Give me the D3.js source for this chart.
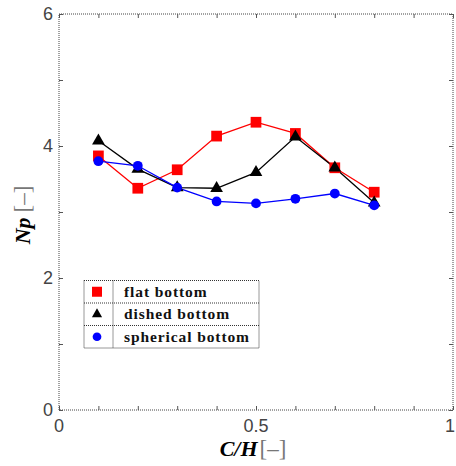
<!DOCTYPE html>
<html>
<head>
<meta charset="utf-8">
<script src="https://cdn.jsdelivr.net/npm/d3@7"></script>
<style>
  body { margin: 0; background: #fff; }
  svg { display: block; }
</style>
</head>
<body>
<svg id="chart" width="456" height="466"></svg>
<script>
// values
var xValues = [0.1, 0.2, 0.3, 0.4, 0.5, 0.6, 0.7, 0.8];
var flatBottom = [3.85, 3.36, 3.64, 4.15, 4.36, 4.19, 3.67, 3.30];
var dishedBottom = [4.08, 3.65, 3.37, 3.36, 3.60, 4.14, 3.67, 3.14];
var sphericalBottom = [3.77, 3.70, 3.37, 3.16, 3.13, 3.20, 3.28, 3.10];
var xTickLabels = [0, 0.5, 1];
var yTickLabels = [0, 2, 4, 6];
var seriesNames = ['flat bottom', 'dished bottom', 'spherical bottom'];

var svg = d3.select('#chart');
var margin = {left: 59, top: 14, right: 3, bottom: 56};
var W = 456, H = 466;

var x = d3.scaleLinear().domain([0, 1]).range([margin.left, W - margin.right]);
var y = d3.scaleLinear().domain([0, 6]).range([H - margin.bottom, margin.top]);

var series = [
	{name: seriesNames[0], values: flatBottom, color: '#ff0000', shape: d3.symbolSquare, size: 115},
	{name: seriesNames[1], values: dishedBottom, color: '#000000', shape: d3.symbolTriangle, size: 70},
	{name: seriesNames[2], values: sphericalBottom, color: '#0000ff', shape: d3.symbolCircle, size: 75}
];

// frame (dotted)
svg.append('rect')
	.attr('x', x(0)).attr('y', y(6))
	.attr('width', x(1) - x(0)).attr('height', y(0) - y(6))
	.attr('fill', 'none').attr('stroke', '#444').attr('stroke-width', 1)
	.attr('stroke-dasharray', '1,1');

// inward ticks on all four sides
var tickLen = 4;
var xt_vals = d3.range(0, 11).map(function(d){return d/10;});
svg.append('g').attr('transform', 'translate(0,' + y(0) + ')')
	.call(d3.axisTop(x).tickValues(xt_vals).tickSize(tickLen).tickFormat(''))
	.call(function(g){g.select('.domain').remove();});
svg.append('g').attr('transform', 'translate(0,' + y(6) + ')')
	.call(d3.axisBottom(x).tickValues(xt_vals).tickSize(tickLen).tickFormat(''))
	.call(function(g){g.select('.domain').remove();});
svg.append('g').attr('transform', 'translate(' + x(0) + ',0)')
	.call(d3.axisRight(y).ticks(6).tickSize(tickLen).tickFormat(''))
	.call(function(g){g.select('.domain').remove();});
svg.append('g').attr('transform', 'translate(' + x(1) + ',0)')
	.call(d3.axisLeft(y).ticks(6).tickSize(tickLen).tickFormat(''))
	.call(function(g){g.select('.domain').remove();});
svg.selectAll('.tick line').attr('stroke', '#555');

// tick labels (last one pulled in a little so it stays on the page)
svg.selectAll('.xlab').data(xTickLabels).enter().append('text')
	.attr('x', function(d){return Math.min(x(d), W - 6);}).attr('y', y(0) + 22)
	.attr('text-anchor', 'middle')
	.style('font-family', 'Liberation Sans, Arial, sans-serif').style('font-size', '18px').style('fill', '#444')
	.text(function(d){return d;});
svg.selectAll('.ylab').data(yTickLabels).enter().append('text')
	.attr('x', x(0) - 6).attr('y', function(d){return y(d) + 6;})
	.attr('text-anchor', 'end')
	.style('font-family', 'Liberation Sans, Arial, sans-serif').style('font-size', '18px').style('fill', '#444')
	.text(function(d){return d;});

// axis titles
var xt = svg.append('text').attr('x', 253).attr('y', 456).attr('text-anchor', 'middle')
	.style('font-family', 'Liberation Serif, Times New Roman, serif').style('font-size', '22px');
xt.append('tspan').style('font-style', 'italic').style('font-weight', 'bold').text('C/H');
xt.append('tspan').style('fill', '#777').style('font-size', '23px').attr('dx', 2).text('[–]');

var yt = svg.append('text').attr('transform', 'translate(30,' + 215 + ') rotate(-90)').attr('text-anchor', 'middle')
	.style('font-family', 'Liberation Serif, Times New Roman, serif').style('font-size', '22px');
yt.append('tspan').style('font-style', 'italic').style('font-weight', 'bold').text('Np');
yt.append('tspan').style('fill', '#777').style('font-size', '23px').attr('dx', 5).text('[–]');

// lines and markers
var line = d3.line()
	.x(function(d, i){return x(xValues[i]);})
	.y(function(d){return y(d);});

series.forEach(function(s){
	svg.append('path').datum(s.values)
		.attr('d', line).attr('fill', 'none')
		.attr('stroke', s.color).attr('stroke-width', 1.3);
});
series.forEach(function(s){
	svg.selectAll(null).data(s.values).enter().append('path')
		.attr('d', d3.symbol().type(s.shape).size(s.size))
		.attr('transform', function(d, i){return 'translate(' + x(xValues[i]) + ',' + y(d) + ')';})
		.attr('fill', s.color);
});

// legend
var lx = 84, ly = 280.5, lw = 175, rh = 22.5, div = 29;
var legend = svg.append('g');
legend.append('rect').attr('x', lx).attr('y', ly).attr('width', lw).attr('height', rh * 3)
	.attr('fill', '#fff').attr('stroke', '#333').attr('stroke-dasharray', '1,1');
legend.append('line').attr('x1', lx + div).attr('x2', lx + div).attr('y1', ly).attr('y2', ly + rh * 3)
	.attr('stroke', '#333').attr('stroke-dasharray', '1,1');
[1, 2].forEach(function(k){
	legend.append('line').attr('x1', lx).attr('x2', lx + lw).attr('y1', ly + rh * k).attr('y2', ly + rh * k)
		.attr('stroke', '#333').attr('stroke-dasharray', '1,1');
});
series.forEach(function(s, i){
	var cy = ly + rh * i + rh / 2;
	legend.append('path')
		.attr('d', d3.symbol().type(s.shape).size(i == 0 ? 100 : (i == 1 ? 45 : 60)))
		.attr('transform', 'translate(' + (lx + 13) + ',' + cy + ')')
		.attr('fill', s.color);
	legend.append('text').attr('x', lx + div + 11).attr('y', cy + 5)
		.style('font-family', 'Liberation Serif, Times New Roman, serif').style('font-weight', 'bold')
		.style('font-size', '15.5px').style('letter-spacing', '0.9px').style('fill', '#111')
		.text(s.name);
});
</script>
</body>
</html>
